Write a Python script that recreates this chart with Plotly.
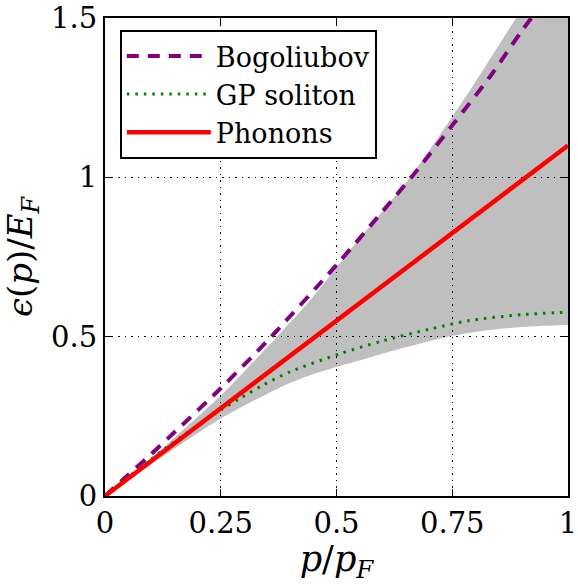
import plotly.graph_objects as go

# Phonons (linear)
p_ph = [0.0, 1.0]
e_ph = [0.0, 1.1]

# Bogoliubov dispersion
p_bog = [0.0, 0.05, 0.1, 0.15, 0.25, 0.35, 0.5, 0.6, 0.667, 0.75, 0.83, 0.903, 1.0]
e_bog = [0.0, 0.066, 0.132, 0.2, 0.338, 0.486, 0.725, 0.894, 1.01, 1.163, 1.313, 1.465, 1.65]

# GP soliton
p_sol = [0.0, 0.1, 0.2, 0.25, 0.29, 0.34, 0.4, 0.505, 0.6, 0.7, 0.785, 0.9, 1.0]
e_sol = [0.0, 0.116, 0.222, 0.27, 0.305, 0.347, 0.39, 0.445, 0.487, 0.523, 0.55, 0.569, 0.577]

# Shaded band: upper and lower edges
p_up = [0.0, 0.1, 0.25, 0.376, 0.448, 0.527, 0.659, 0.742, 0.799, 0.888, 1.0]
e_up = [0.0, 0.118, 0.315, 0.507, 0.622, 0.767, 1.0, 1.173, 1.297, 1.5, 1.75]
p_lo = [0.0, 0.1, 0.2, 0.25, 0.3, 0.35, 0.4, 0.45, 0.5, 0.55, 0.6, 0.65, 0.7, 0.75, 0.8, 0.85, 0.9, 0.95, 1.0]
e_lo = [0.0, 0.1, 0.197, 0.243, 0.283, 0.32, 0.355, 0.383, 0.405, 0.425, 0.447, 0.467, 0.486, 0.503, 0.515, 0.524, 0.53, 0.534, 0.537]

x_ticks = [0, 0.25, 0.5, 0.75, 1]
x_ticklabels = ["0", "0.25", "0.5", "0.75", "1"]
y_ticks = [0, 0.5, 1, 1.5]
y_ticklabels = ["0", "0.5", "1", "1.5"]

FONT = "DejaVu Serif"

fig = go.Figure()

fig.add_trace(go.Scatter(
    x=p_lo, y=e_lo, mode="lines", line=dict(width=0, shape="spline", smoothing=0.6),
    showlegend=False, hoverinfo="skip"))
fig.add_trace(go.Scatter(
    x=p_up, y=e_up, mode="lines", fill="tonexty", fillcolor="rgba(0,0,0,0.25)",
    line=dict(width=0, shape="spline", smoothing=0.6),
    showlegend=False, hoverinfo="skip"))

fig.add_trace(go.Scatter(
    x=p_bog, y=e_bog, mode="lines", name="Bogoliubov",
    line=dict(color="#800080", width=4, dash="12px,9px", shape="spline", smoothing=0.8)))

fig.add_trace(go.Scatter(
    x=p_sol, y=e_sol, mode="lines", name="GP soliton",
    line=dict(color="#008000", width=3, dash="2.5px,6px", shape="spline", smoothing=0.8)))

fig.add_trace(go.Scatter(
    x=p_ph, y=e_ph, mode="lines", name="Phonons",
    line=dict(color="#ff0000", width=4.5)))

axis_common = dict(
    showline=True, linecolor="black", linewidth=2, mirror="ticks",
    ticks="inside", ticklen=7, tickwidth=1, tickcolor="black",
    showgrid=True, gridcolor="black", gridwidth=1, griddash="1.5px,5px",
    zeroline=False, ticklabeloverflow="allow", automargin=False,
    tickfont=dict(family=FONT, size=29, color="black"),
)

fig.update_xaxes(
    range=[0, 1], tickvals=x_ticks, ticktext=x_ticklabels,
    title=dict(text="<i>p</i>/<i>p</i><sub><i>F</i></sub>",
               font=dict(family=FONT, size=35, color="black"), standoff=10),
    **axis_common)
fig.update_yaxes(
    range=[0, 1.5], tickvals=y_ticks, ticktext=y_ticklabels,
    title=dict(text="<i>ϵ</i>(<i>p</i>)/<i>E</i><sub><i>F</i></sub>",
               font=dict(family=FONT, size=34, color="black"), standoff=8),
    **axis_common)

fig.update_layout(
    width=578, height=584,
    margin=dict(l=105, r=10, t=18, b=88),
    plot_bgcolor="white", paper_bgcolor="white",
    legend=dict(x=0.032, y=0.975, xanchor="left", yanchor="top",
                bgcolor="white", bordercolor="black", borderwidth=2,
                font=dict(family=FONT, size=27, color="black"),
                itemwidth=84, tracegroupgap=0, traceorder="normal"),
    showlegend=True,
)

fig.write_html("out.html")
